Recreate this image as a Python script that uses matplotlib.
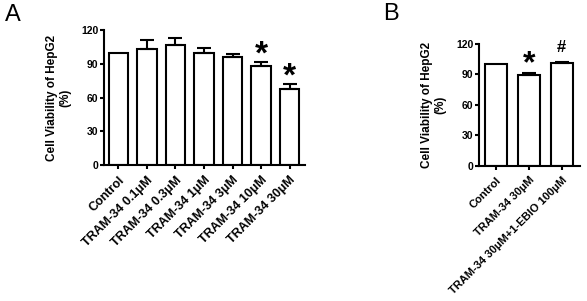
import matplotlib
matplotlib.use("Agg")
import matplotlib.pyplot as plt

plt.rcParams['font.family'] = ['Liberation Sans', 'DejaVu Sans']
plt.rcParams['font.weight'] = 'bold'

# panel A
labels_a = ['Control', 'TRAM-34 0.1\u03bcM', 'TRAM-34 0.3\u03bcM', 'TRAM-34 1\u03bcM',
            'TRAM-34 3\u03bcM', 'TRAM-34 10\u03bcM', 'TRAM-34 30\u03bcM']
means_a = [100, 103.4, 106.4, 99.6, 95.7, 87.7, 67.3]
errs_a = [0, 8.0, 6.5, 4.7, 3.2, 3.9, 4.7]
marks_a = ['', '', '', '', '', '*', '*']

# panel B
labels_b = ['Control', 'TRAM-34 30\u03bcM', 'TRAM-34 30\u03bcM+1-EBIO 100\u03bcM']
means_b = [100, 89.0, 101.3]
errs_b = [0, 2.0, 0.8]
marks_b = ['', '*', '#']

fig = plt.figure(figsize=(5.87, 3.01), dpi=100)
ax1 = fig.add_axes([0.177, 0.452, 0.343, 0.448])
ax2 = fig.add_axes([0.816, 0.4485, 0.172, 0.4055])


def draw(ax, labels, means, errs, marks, star_fs, star_off, lab_fs):
    x = list(range(len(labels)))
    ax.bar(x, means, width=0.68, color='white', edgecolor='black', linewidth=1.5)
    for xi, m, e in zip(x, means, errs):
        if e > 0:
            ax.errorbar(xi, m, yerr=[[0], [e]], color='black', capsize=5,
                        elinewidth=1.5, capthick=1.5)
    for xi, m, e, s in zip(x, means, errs, marks):
        if s == '*':
            ax.text(xi, m + e + star_off, s, ha='center', va='bottom', fontsize=star_fs,
                    fontweight='bold')
        elif s == '#':
            ax.text(xi, m + e + 7, s, ha='center', va='bottom', fontsize=12,
                    fontweight='bold')
    ax.set_xlim(-0.51, len(labels) - 0.45)
    ax.set_ylim(0, 120)
    ax.set_yticks([0, 30, 60, 90, 120])
    ax.set_xticks(x)
    ax.set_xticklabels(labels, rotation=45, ha='right', rotation_mode='anchor',
                       fontsize=lab_fs, fontweight='bold')
    ax.tick_params(axis='y', labelsize=7.5, width=1.5, length=3, pad=1)
    ax.tick_params(axis='x', width=1.5, length=3)
    for lab in ax.get_yticklabels():
        lab.set_fontweight('bold')
    ax.spines['top'].set_visible(False)
    ax.spines['right'].set_visible(False)
    ax.spines['left'].set_linewidth(1.5)
    ax.spines['bottom'].set_linewidth(1.5)
    ax.set_ylabel('Cell Viability of HepG2\n(%)', fontsize=8.5, fontweight='bold',
                  labelpad=7)


draw(ax1, labels_a, means_a, errs_a, marks_a, 24, -8, 9)
draw(ax2, labels_b, means_b, errs_b, marks_b, 23, -6, 8)

fig.text(0.008, 0.93, 'A', fontsize=17, fontweight='normal')
fig.text(0.652, 0.935, 'B', fontsize=17, fontweight='normal')

fig.savefig('out.png', dpi=100)
